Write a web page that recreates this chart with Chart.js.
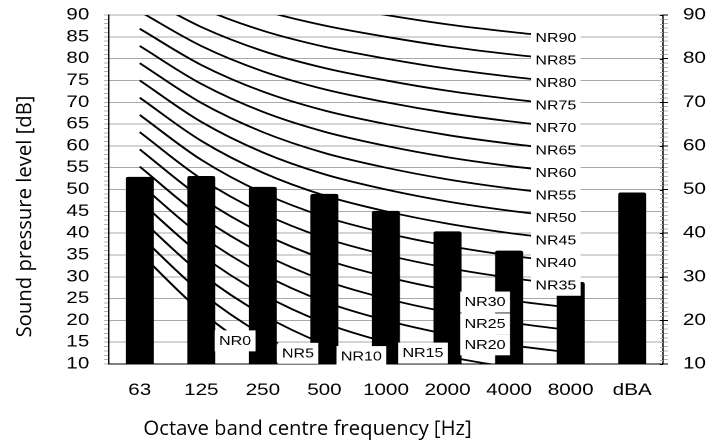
<!DOCTYPE html>
<html><head><meta charset="utf-8">
<script src="https://cdn.jsdelivr.net/npm/chart.js@4.4.1/dist/chart.umd.min.js"></script>
<style>
html,body{margin:0;padding:0;background:#fff;overflow:hidden}
#wrap{position:absolute;left:0;top:0;width:566px;height:443px;transform-origin:0 0;transform:scaleX(1.25088)}
canvas{display:block}
</style></head><body>
<div id="wrap"><canvas id="c" width="566" height="443"></canvas></div>
<script>
// ---------------- DATA ----------------
const categories = ['63', '125', '250', '500', '1000', '2000', '4000', '8000', 'dBA'];
const measuredLevels = [52.9, 53.1, 50.6, 49.0, 45.1, 40.4, 36.0, 28.8, 49.3];
const leftAxisLabels = [10, 15, 20, 25, 30, 35, 40, 45, 50, 55, 60, 65, 70, 75, 80, 85, 90];
const rightAxisLabels = [10, 20, 30, 40, 50, 60, 70, 80, 90];
const nrNames = ['NR0','NR5','NR10','NR15','NR20','NR25','NR30','NR35','NR40','NR45',
                 'NR50','NR55','NR60','NR65','NR70','NR75','NR80','NR85','NR90'];
// NR curve levels at 63,125,250,500,1000,2000,4000,8000 Hz
const NR0  = [35.5, 22.0, 12.0, 4.8, 0, -3.5, -6.1, -8.0];
const NR5  = [39.45, 26.35, 16.65, 9.67, 5, 1.58, -0.98, -2.85];
const NR10 = [43.4, 30.7, 21.3, 14.54, 10, 6.65, 4.15, 2.3];
const NR15 = [47.35, 35.05, 25.95, 19.41, 15, 11.73, 9.28, 7.45];
const NR20 = [51.3, 39.4, 30.6, 24.28, 20, 16.8, 14.4, 12.6];
const NR25 = [55.25, 43.75, 35.25, 29.15, 25, 21.88, 19.53, 17.75];
const NR30 = [59.2, 48.1, 39.9, 34.02, 30, 26.95, 24.65, 22.9];
const NR35 = [63.15, 52.45, 44.55, 38.89, 35, 32.03, 29.78, 28.05];
const NR40 = [67.1, 56.8, 49.2, 43.76, 40, 37.1, 34.9, 33.2];
const NR45 = [71.05, 61.15, 53.85, 48.63, 45, 42.18, 40.03, 38.35];
const NR50 = [75.0, 65.5, 58.5, 53.5, 50, 47.25, 45.15, 43.5];
const NR55 = [78.95, 69.85, 63.15, 58.37, 55, 52.33, 50.28, 48.65];
const NR60 = [82.9, 74.2, 67.8, 63.24, 60, 57.4, 55.4, 53.8];
const NR65 = [86.85, 78.55, 72.45, 68.11, 65, 62.48, 60.53, 58.95];
const NR70 = [90.8, 82.9, 77.1, 72.98, 70, 67.55, 65.65, 64.1];
const NR75 = [94.75, 87.25, 81.75, 77.85, 75, 72.63, 70.78, 69.25];
const NR80 = [98.7, 91.6, 86.4, 82.72, 80, 77.7, 75.9, 74.4];
const NR85 = [102.65, 95.95, 91.05, 87.59, 85, 82.78, 81.03, 79.55];
const NR90 = [106.6, 100.3, 95.7, 92.46, 90, 87.85, 86.15, 84.7];
const nrCurves = [NR0, NR5, NR10, NR15, NR20, NR25, NR30, NR35, NR40, NR45,
                  NR50, NR55, NR60, NR65, NR70, NR75, NR80, NR85, NR90];
const xTitle = 'Octave band centre frequency [Hz]';
const yTitle = 'Sound pressure level [dB]';

// ---------------- LAYOUT / STYLE ----------------
const SX = 1.25088; // horizontal stretch of the drawing
// label anchors in data units (category index, dB) for curves whose labels sit low
const lowLabelAnchors = {
  NR0: [1.55, 15.3], NR5: [2.57, 12.45], NR10: [3.60, 11.7], NR15: [4.60, 12.5],
  NR20: [5.61, 14.4], NR25: [5.61, 19.2], NR30: [5.61, 24.2]
};
const highLabelIndex = 6.76;

const nrLabelPlugin = {
  id: 'nrLabels',
  afterDatasetsDraw(chart) {
    const ctx = chart.ctx, xs = chart.scales.x, ys = chart.scales.y;
    ctx.save();
    ctx.font = '12.8px "Liberation Sans", Arial, sans-serif';
    ctx.textAlign = 'center';
    ctx.textBaseline = 'middle';
    nrNames.forEach((name, i) => {
      let ix, v;
      if (lowLabelAnchors[name]) { [ix, v] = lowLabelAnchors[name]; }
      else { ix = highLabelIndex; v = nrCurves[i][nrCurves[i].length - 1]; }
      const x = xs.getPixelForValue(ix), y = ys.getPixelForValue(v);
      const w = ctx.measureText(name).width + 7, h = 21;
      ctx.fillStyle = '#fff';
      ctx.fillRect(x - w / 2, y - h / 2, w, h);
      ctx.fillStyle = '#000';
      ctx.fillText(name, x, y + 0.5);
    });
    ctx.restore();
  }
};

const extrasPlugin = {
  id: 'extras',
  afterDraw(chart) {
    const ctx = chart.ctx, y2 = chart.scales.y2;
    ctx.save();
    // inner half of the right-axis tick marks
    y2.ticks.forEach(t => {
      const py = Math.round(y2.getPixelForValue(t.value)) + 0.5;
      ctx.strokeStyle = (t.value % 10 === 0) ? '#000' : '#b5b5b5';
      ctx.lineWidth = 1;
      ctx.beginPath();
      ctx.moveTo(y2.left - 2.6, py);
      ctx.lineTo(y2.left, py);
      ctx.stroke();
    });
    // axis titles (drawn unstretched)
    ctx.scale(1 / SX, 1);
    ctx.fillStyle = '#000';
    ctx.font = '20.3px "Open Sans", sans-serif';
    ctx.textAlign = 'center';
    ctx.textBaseline = 'alphabetic';
    ctx.fillText(xTitle, 307.5, 435);
    ctx.translate(31.5, 216.5);
    ctx.rotate(-Math.PI / 2);
    ctx.fillText(yTitle, 0, 0);
    ctx.restore();
  }
};

const tickFont = { family: '"Liberation Sans", Arial, sans-serif', size: 16.5 };

const datasets = [{
  type: 'bar',
  data: measuredLevels,
  backgroundColor: '#000',
  borderWidth: 0,
  borderRadius: 2,
  barPercentage: 0.455,
  categoryPercentage: 1,
  yAxisID: 'y',
  order: 2
}];
nrCurves.forEach((curve, i) => {
  datasets.push({
    type: 'line',
    label: nrNames[i],
    data: curve,
    borderColor: '#000',
    borderWidth: 1.8,
    pointRadius: 0,
    fill: false,
    tension: 0.33,
    clip: 0,
    yAxisID: 'y',
    order: 1
  });
});

new Chart(document.getElementById('c'), {
  type: 'bar',
  data: { labels: categories, datasets },
  options: {
    responsive: false,
    animation: false,
    devicePixelRatio: 2,
    layout: { padding: { top: 15, left: 0, right: 0, bottom: 0 } },
    elements: { line: { capBezierPoints: false } },
    plugins: { legend: { display: false }, tooltip: { enabled: false } },
    scales: {
      x: {
        type: 'category',
        offset: true,
        grid: { display: false, drawTicks: false },
        border: { display: true, color: '#000', width: 1 },
        ticks: { font: tickFont, color: '#000', padding: 16.5, autoSkip: false, maxRotation: 0 },
        afterFit: s => { s.height = 79; s.paddingLeft = 0; s.paddingRight = 0; }
      },
      y: {
        position: 'left',
        min: 10, max: 90,
        ticks: {
          stepSize: 1, autoSkip: false, font: tickFont, color: '#000', padding: 11.7,
          callback: v => leftAxisLabels.includes(v) ? String(v) : ''
        },
        grid: {
          color: c => (c.tick && c.tick.value % 5 === 0) ? '#a8a8a8' : 'rgba(0,0,0,0)',
          tickColor: '#b5b5b5',
          tickLength: 4,
          lineWidth: 1
        },
        border: { color: '#000', width: 1 },
        afterFit: s => { s.width = 87.1; s.paddingTop = 0; s.paddingBottom = 0; }
      },
      y2: {
        position: 'right',
        min: 10, max: 90,
        ticks: {
          stepSize: 1, autoSkip: false, font: tickFont, color: '#000', padding: 12,
          callback: v => rightAxisLabels.includes(v) ? String(v) : ''
        },
        grid: {
          drawOnChartArea: false,
          tickColor: c => (c.tick && c.tick.value % 10 === 0) ? '#000' : '#b5b5b5',
          tickLength: 4
        },
        border: { color: '#000', width: 1 },
        afterFit: s => { s.width = 36; s.paddingTop = 0; s.paddingBottom = 0; }
      }
    }
  },
  plugins: [nrLabelPlugin, extrasPlugin]
});
</script>
</body></html>
